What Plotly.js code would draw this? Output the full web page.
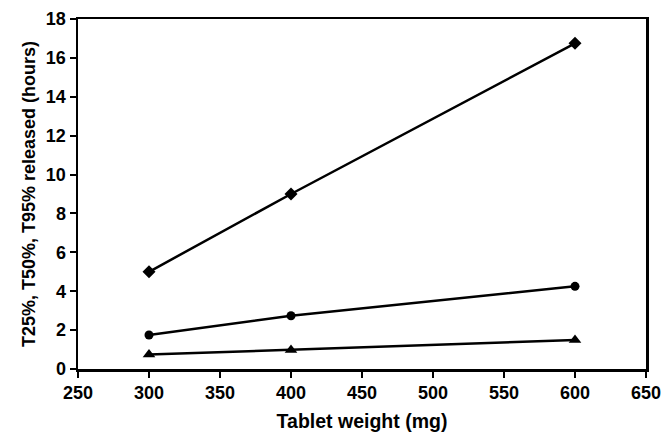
<!DOCTYPE html>
<html>
<head>
<meta charset="utf-8">
<script src="https://cdn.plot.ly/plotly-3.0.1.min.js"></script>
<style>html,body{margin:0;padding:0;background:#fff;}</style>
</head>
<body>
<div id="chart" style="width:661px;height:434px;"></div>
<script>
// Tablet weight (mg) vs time to reach given fraction released (hours)
const tabletWeight = [300, 400, 600];
const t95 = [5.0, 9.0, 16.75];
const t50 = [1.75, 2.74, 4.25];
const t25 = [0.74, 0.98, 1.49];
const xTicks = [250, 300, 350, 400, 450, 500, 550, 600, 650];
const yTicks = [0, 2, 4, 6, 8, 10, 12, 14, 16, 18];

const font = {family: 'Liberation Sans, Arial, sans-serif', color: '#000'};

function series(name, y, symbol, size) {
  return {
    x: tabletWeight, y: y, name: name, type: 'scatter', mode: 'lines+markers',
    line: {color: '#000', width: 2.5},
    marker: {symbol: symbol, size: size, color: '#000'},
    cliponaxis: false
  };
}

const data = [
  series('T95%', t95, 'diamond', 10),
  series('T50%', t50, 'circle', 9),
  series('T25%', t25, 'triangle-up', 11)
];

const axisCommon = {
  showgrid: false, zeroline: false, showline: true, linecolor: '#000', linewidth: 2.5,
  mirror: true, ticks: 'outside', ticklen: 6, tickwidth: 2, tickcolor: '#000',
  tickfont: Object.assign({size: 18}, font),
  ticklabeloverflow: 'allow'
};

const bold = v => '<b>' + v + '</b>';

const layout = {
  width: 661, height: 434,
  margin: {l: 78, r: 15, t: 19, b: 65},
  paper_bgcolor: '#fff', plot_bgcolor: '#fff',
  showlegend: false,
  font: font,
  xaxis: Object.assign({}, axisCommon, {
    range: [250, 650], tickvals: xTicks, ticktext: xTicks.map(bold),
    title: {text: '<b>Tablet weight (mg)</b>', font: Object.assign({size: 19.5}, font), standoff: 13}
  }),
  yaxis: Object.assign({}, axisCommon, {
    range: [0, 18], tickvals: yTicks, ticktext: yTicks.map(bold),
    title: {text: '<b>T25%, T50%, T95% released (hours)</b>', font: Object.assign({size: 18}, font), standoff: 6}
  })
};

Plotly.newPlot('chart', data, layout, {displayModeBar: false, staticPlot: true});
</script>
</body>
</html>
